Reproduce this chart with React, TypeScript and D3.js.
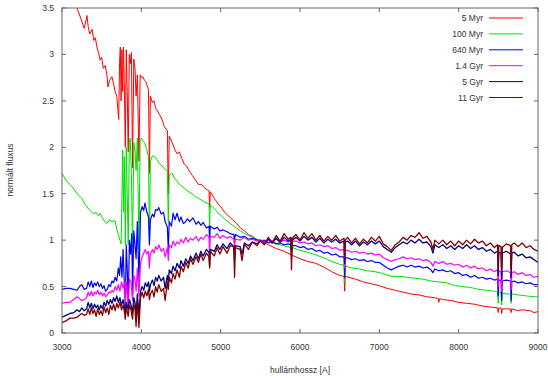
import { useEffect, useRef } from "react";
import * as d3 from "d3";

const WIDTH = 548
const HEIGHT = 378
const MARGIN = { top: 8, right: 10, bottom: 45, left: 62 }

const X_TICKS = [3000, 4000, 5000, 6000, 7000, 8000, 9000]
const Y_TICKS = [0, 0.5, 1, 1.5, 2, 2.5, 3, 3.5]
const AGES = ["5 Myr", "100 Myr", "640 Myr", "1.4 Gyr", "5 Gyr", "11 Gyr"]
const COLORS = ["#ff0000", "#00e000", "#0000ff", "#ff00ff", "#000080", "#800000"]
const WIDTHS = [1, 1, 1.2, 1.2, 1.3, 1.3]

/* [wavelength, normalised flux] */
const MYR5 = [
    [3000, 3.9], [3100, 3.68], [3190, 3.5], [3240, 3.38], [3280, 3.28], [3300, 3.36], [3315, 3.42], [3330, 3.3], [3350, 3.22],
    [3380, 3.27], [3400, 3.15], [3420, 3.18], [3440, 3.08], [3460, 3.02], [3480, 2.94], [3500, 2.97], [3520, 2.85], [3545, 2.88],
    [3565, 2.78], [3580, 2.65], [3600, 2.72], [3630, 2.76], [3650, 2.68], [3670, 2.6], [3690, 2.55], [3705, 2.4], [3715, 2.3],
    [3725, 2.9], [3735, 3.08], [3745, 2.5], [3755, 3.05], [3765, 2.6], [3775, 3.08], [3785, 2.7], [3798, 2.0], [3810, 3.05],
    [3822, 2.6], [3835, 1.95], [3848, 3.0], [3860, 2.9], [3875, 3.02], [3889, 1.78], [3905, 2.95], [3920, 2.85], [3934, 2.55],
    [3950, 2.78], [3970, 1.85], [3985, 2.78], [4000, 2.75], [4020, 2.76], [4040, 2.72], [4060, 2.7], [4090, 2.62], [4102, 1.72],
    [4114, 2.55], [4140, 2.48], [4160, 2.5], [4180, 2.42], [4200, 2.4], [4230, 2.35], [4260, 2.3], [4290, 2.22], [4328, 2.18],
    [4340, 1.5], [4352, 2.12], [4390, 2.05], [4420, 1.98], [4450, 1.93], [4480, 1.95], [4510, 1.88], [4540, 1.82], [4570, 1.8],
    [4600, 1.75], [4640, 1.7], [4680, 1.65], [4720, 1.6], [4760, 1.6], [4800, 1.56], [4853, 1.53], [4861, 1.35], [4869, 1.52],
    [4920, 1.45], [4960, 1.4], [5000, 1.36], [5050, 1.3], [5100, 1.26], [5150, 1.22], [5200, 1.18], [5250, 1.13], [5300, 1.1],
    [5350, 1.06], [5400, 1.04], [5450, 1.01], [5500, 0.99], [5600, 0.95], [5700, 0.91], [5800, 0.88], [5893, 0.84], [6000, 0.8],
    [6100, 0.77], [6200, 0.75], [6300, 0.71], [6400, 0.66], [6500, 0.62], [6555, 0.61], [6563, 0.45], [6571, 0.61], [6700, 0.58],
    [6800, 0.55], [6900, 0.53], [7000, 0.51], [7100, 0.48], [7200, 0.46], [7300, 0.44], [7400, 0.42], [7500, 0.41], [7600, 0.39],
    [7700, 0.38], [7742, 0.37], [7750, 0.33], [7758, 0.37], [7800, 0.36], [7900, 0.35], [8000, 0.33], [8100, 0.32], [8200, 0.31],
    [8300, 0.29], [8400, 0.28], [8490, 0.27], [8498, 0.22], [8506, 0.27], [8534, 0.27], [8542, 0.21], [8550, 0.26], [8600, 0.26],
    [8654, 0.26], [8662, 0.22], [8670, 0.26], [8750, 0.24], [8800, 0.25], [8900, 0.24], [8950, 0.22], [9000, 0.23],
]

const MYR100 = [
    [3000, 1.72], [3060, 1.63], [3100, 1.6], [3150, 1.55], [3200, 1.49], [3250, 1.45], [3280, 1.4], [3315, 1.36], [3340, 1.33],
    [3378, 1.3], [3400, 1.28], [3430, 1.3], [3460, 1.26], [3480, 1.29], [3510, 1.24], [3540, 1.2], [3567, 1.18], [3600, 1.22],
    [3630, 1.2], [3668, 1.21], [3690, 1.12], [3710, 1.06], [3731, 1.0], [3745, 0.96], [3755, 1.45], [3765, 1.97], [3775, 1.3],
    [3785, 1.9], [3798, 0.95], [3810, 2.0], [3822, 1.5], [3835, 0.95], [3848, 2.05], [3860, 2.1], [3875, 1.7], [3889, 0.92],
    [3905, 2.05], [3920, 1.97], [3934, 1.75], [3950, 2.1], [3970, 0.9], [3985, 2.08], [4000, 2.1], [4020, 2.07], [4040, 2.05],
    [4060, 2.0], [4090, 1.9], [4102, 0.95], [4114, 1.85], [4140, 1.91], [4160, 1.9], [4180, 1.89], [4200, 1.86], [4230, 1.82],
    [4260, 1.8], [4290, 1.77], [4328, 1.75], [4340, 1.2], [4352, 1.7], [4390, 1.72], [4420, 1.66], [4450, 1.64], [4480, 1.6],
    [4510, 1.58], [4540, 1.56], [4570, 1.54], [4600, 1.52], [4640, 1.5], [4680, 1.47], [4720, 1.45], [4760, 1.43], [4800, 1.41],
    [4853, 1.39], [4861, 1.15], [4869, 1.38], [4920, 1.34], [4960, 1.3], [5000, 1.27], [5050, 1.23], [5100, 1.19], [5150, 1.16],
    [5200, 1.13], [5250, 1.1], [5300, 1.07], [5350, 1.05], [5400, 1.03], [5450, 1.01], [5500, 1.0], [5600, 0.98], [5700, 0.96],
    [5800, 0.94], [5885, 0.92], [5893, 0.86], [5901, 0.92], [6000, 0.89], [6100, 0.87], [6200, 0.84], [6300, 0.81], [6400, 0.77],
    [6500, 0.74], [6555, 0.73], [6563, 0.55], [6571, 0.72], [6650, 0.7], [6750, 0.69], [6850, 0.67], [6950, 0.66], [7050, 0.64],
    [7150, 0.61], [7250, 0.61], [7350, 0.6], [7450, 0.59], [7550, 0.58], [7650, 0.56], [7750, 0.55], [7850, 0.54], [7950, 0.51],
    [8050, 0.5], [8150, 0.49], [8250, 0.47], [8350, 0.46], [8450, 0.45], [8490, 0.44], [8498, 0.32], [8506, 0.44], [8534, 0.44],
    [8542, 0.3], [8550, 0.43], [8600, 0.42], [8654, 0.42], [8662, 0.32], [8670, 0.42], [8750, 0.41], [8850, 0.4], [8950, 0.39],
    [9000, 0.39],
]

const MYR640 = [
    [3000, 0.47], [3050, 0.48], [3100, 0.48], [3150, 0.47], [3190, 0.46], [3220, 0.5], [3250, 0.52], [3280, 0.47], [3310, 0.48],
    [3330, 0.55], [3350, 0.5], [3370, 0.56], [3390, 0.49], [3410, 0.54], [3430, 0.51], [3450, 0.55], [3470, 0.5], [3490, 0.53],
    [3510, 0.48], [3530, 0.51], [3550, 0.45], [3570, 0.47], [3590, 0.52], [3610, 0.5], [3630, 0.56], [3650, 0.54], [3670, 0.6],
    [3690, 0.56], [3710, 0.7], [3725, 0.62], [3740, 0.82], [3755, 0.6], [3770, 0.9], [3785, 0.55], [3798, 0.3], [3810, 0.95],
    [3822, 0.7], [3835, 0.3], [3850, 1.0], [3865, 0.85], [3880, 1.07], [3889, 0.4], [3905, 1.1], [3920, 0.95], [3934, 0.8],
    [3950, 1.2], [3970, 0.55], [3990, 1.3], [4010, 1.36], [4030, 1.32], [4045, 1.4], [4070, 1.3], [4090, 1.25], [4102, 0.95],
    [4114, 1.22], [4140, 1.28], [4160, 1.25], [4180, 1.33], [4200, 1.32], [4220, 1.35], [4250, 1.28], [4280, 1.3], [4300, 1.2],
    [4328, 1.14], [4340, 0.9], [4352, 1.2], [4380, 1.15], [4400, 1.29], [4425, 1.22], [4450, 1.29], [4480, 1.2], [4500, 1.25],
    [4530, 1.18], [4550, 1.19], [4580, 1.23], [4610, 1.2], [4650, 1.24], [4690, 1.17], [4720, 1.2], [4750, 1.16], [4780, 1.19],
    [4820, 1.13], [4853, 1.15], [4861, 1.0], [4869, 1.15], [4920, 1.12], [4955, 1.14], [4990, 1.1], [5030, 1.11], [5080, 1.09],
    [5120, 1.07], [5165, 1.06], [5175, 1.0], [5185, 1.06], [5245, 1.03], [5300, 1.04], [5350, 1.01], [5400, 1.02], [5460, 1.0],
    [5500, 0.99], [5550, 1.0], [5600, 0.97], [5650, 0.99], [5700, 0.96], [5750, 0.97], [5800, 0.95], [5850, 0.96], [5885, 0.95],
    [5893, 0.88], [5901, 0.94], [5950, 0.94], [6000, 0.92], [6050, 0.93], [6100, 0.9], [6150, 0.91], [6200, 0.88], [6250, 0.89],
    [6300, 0.86], [6350, 0.87], [6400, 0.84], [6450, 0.85], [6500, 0.82], [6555, 0.82], [6563, 0.6], [6571, 0.81], [6600, 0.81],
    [6650, 0.79], [6700, 0.8], [6750, 0.78], [6800, 0.79], [6850, 0.77], [6900, 0.78], [6950, 0.76], [7000, 0.76], [7050, 0.73],
    [7100, 0.7], [7150, 0.68], [7200, 0.7], [7250, 0.72], [7300, 0.73], [7350, 0.71], [7400, 0.73], [7450, 0.71], [7500, 0.72],
    [7550, 0.7], [7600, 0.71], [7650, 0.68], [7675, 0.65], [7700, 0.69], [7750, 0.67], [7800, 0.68], [7850, 0.66], [7900, 0.67],
    [7950, 0.64], [8000, 0.65], [8050, 0.62], [8100, 0.63], [8150, 0.6], [8200, 0.62], [8250, 0.59], [8300, 0.6], [8350, 0.58],
    [8400, 0.59], [8450, 0.57], [8490, 0.58], [8498, 0.4], [8506, 0.57], [8534, 0.57], [8542, 0.35], [8550, 0.56], [8600, 0.57],
    [8654, 0.56], [8662, 0.35], [8670, 0.55], [8700, 0.56], [8750, 0.54], [8800, 0.55], [8850, 0.53], [8900, 0.54], [8950, 0.52],
    [9000, 0.52],
]

const GYR1_4 = [
    [3000, 0.32], [3050, 0.33], [3100, 0.33], [3150, 0.36], [3190, 0.39], [3220, 0.37], [3250, 0.35], [3280, 0.36], [3310, 0.38],
    [3330, 0.44], [3350, 0.4], [3370, 0.45], [3390, 0.4], [3410, 0.44], [3430, 0.42], [3450, 0.46], [3470, 0.41], [3490, 0.44],
    [3510, 0.4], [3530, 0.43], [3550, 0.39], [3570, 0.41], [3590, 0.44], [3610, 0.43], [3630, 0.46], [3650, 0.44], [3670, 0.5],
    [3690, 0.46], [3710, 0.52], [3730, 0.45], [3750, 0.55], [3770, 0.48], [3790, 0.56], [3798, 0.3], [3810, 0.55], [3835, 0.3],
    [3850, 0.58], [3870, 0.55], [3889, 0.35], [3905, 0.62], [3920, 0.58], [3934, 0.45], [3950, 0.7], [3970, 0.4], [3990, 0.75],
    [4010, 0.82], [4030, 0.86], [4050, 0.9], [4070, 0.85], [4090, 0.88], [4102, 0.7], [4114, 0.85], [4140, 0.9], [4160, 0.86],
    [4180, 0.93], [4200, 0.9], [4220, 0.95], [4250, 0.88], [4280, 0.91], [4300, 0.82], [4328, 0.92], [4340, 0.78], [4352, 0.95],
    [4380, 0.92], [4400, 0.99], [4425, 0.94], [4450, 0.98], [4480, 0.96], [4500, 1.01], [4530, 0.97], [4560, 1.03], [4590, 0.98],
    [4620, 1.02], [4650, 1.0], [4690, 1.04], [4720, 0.99], [4750, 1.03], [4780, 1.01], [4820, 1.06], [4853, 1.03], [4861, 0.85],
    [4869, 1.04], [4920, 1.03], [4955, 1.07], [4990, 1.02], [5030, 1.05], [5080, 1.02], [5120, 1.04], [5165, 1.01], [5175, 0.93],
    [5185, 1.01], [5245, 1.0], [5300, 1.03], [5350, 1.0], [5400, 1.01], [5460, 0.99], [5500, 1.0], [5550, 0.98], [5600, 1.01],
    [5650, 0.99], [5700, 1.01], [5750, 0.98], [5800, 1.0], [5850, 0.98], [5885, 0.99], [5893, 0.9], [5901, 0.99], [5950, 0.99],
    [6000, 0.97], [6050, 0.98], [6100, 0.96], [6150, 0.97], [6200, 0.94], [6250, 0.95], [6300, 0.93], [6350, 0.94], [6400, 0.91],
    [6450, 0.92], [6500, 0.89], [6555, 0.9], [6563, 0.7], [6571, 0.89], [6600, 0.89], [6650, 0.87], [6700, 0.88], [6750, 0.86],
    [6800, 0.87], [6850, 0.85], [6900, 0.86], [6950, 0.84], [7000, 0.85], [7050, 0.81], [7100, 0.79], [7150, 0.77], [7200, 0.79],
    [7250, 0.8], [7300, 0.82], [7350, 0.8], [7400, 0.81], [7450, 0.79], [7500, 0.8], [7550, 0.78], [7600, 0.79], [7650, 0.76],
    [7675, 0.72], [7700, 0.77], [7750, 0.75], [7800, 0.77], [7850, 0.74], [7900, 0.75], [7950, 0.73], [8000, 0.74], [8050, 0.71],
    [8100, 0.73], [8150, 0.7], [8200, 0.72], [8250, 0.69], [8300, 0.7], [8350, 0.67], [8400, 0.69], [8450, 0.66], [8490, 0.68],
    [8498, 0.5], [8506, 0.67], [8534, 0.66], [8542, 0.45], [8550, 0.66], [8600, 0.67], [8654, 0.65], [8662, 0.47], [8670, 0.65],
    [8700, 0.66], [8750, 0.63], [8800, 0.65], [8850, 0.62], [8900, 0.63], [8950, 0.6], [9000, 0.61],
]

const GYR5 = [
    [3000, 0.17], [3050, 0.19], [3100, 0.21], [3150, 0.22], [3190, 0.25], [3220, 0.23], [3250, 0.27], [3280, 0.24], [3310, 0.26],
    [3330, 0.33], [3350, 0.27], [3370, 0.32], [3390, 0.26], [3410, 0.31], [3430, 0.27], [3450, 0.3], [3470, 0.25], [3490, 0.3],
    [3510, 0.26], [3530, 0.33], [3550, 0.29], [3570, 0.35], [3590, 0.31], [3610, 0.36], [3630, 0.32], [3650, 0.38], [3670, 0.34],
    [3690, 0.4], [3710, 0.33], [3730, 0.38], [3750, 0.3], [3770, 0.36], [3790, 0.27], [3798, 0.22], [3810, 0.33], [3835, 0.25],
    [3850, 0.36], [3870, 0.3], [3889, 0.22], [3905, 0.38], [3920, 0.33], [3934, 0.2], [3950, 0.42], [3970, 0.2], [3990, 0.45],
    [4010, 0.5], [4030, 0.46], [4050, 0.54], [4070, 0.5], [4090, 0.55], [4102, 0.45], [4114, 0.52], [4140, 0.57], [4160, 0.51],
    [4180, 0.6], [4200, 0.56], [4220, 0.62], [4250, 0.56], [4280, 0.6], [4300, 0.48], [4328, 0.62], [4340, 0.55], [4352, 0.68],
    [4380, 0.64], [4400, 0.72], [4425, 0.67], [4450, 0.75], [4480, 0.7], [4500, 0.78], [4530, 0.72], [4560, 0.8], [4590, 0.75],
    [4620, 0.83], [4650, 0.78], [4690, 0.86], [4720, 0.8], [4750, 0.88], [4780, 0.83], [4820, 0.9], [4853, 0.87], [4861, 0.72],
    [4869, 0.9], [4920, 0.88], [4955, 0.95], [4990, 0.9], [5030, 0.96], [5080, 0.91], [5120, 0.97], [5165, 0.93], [5175, 0.78],
    [5185, 0.94], [5245, 0.93], [5270, 0.85], [5300, 0.97], [5350, 0.94], [5400, 0.98], [5460, 0.96], [5500, 0.99], [5550, 0.96],
    [5600, 1.01], [5650, 0.97], [5700, 1.02], [5750, 0.98], [5800, 1.03], [5850, 0.99], [5885, 1.01], [5893, 0.8], [5901, 1.0],
    [5950, 1.03], [6000, 0.99], [6050, 1.04], [6100, 1.0], [6150, 1.03], [6200, 0.98], [6250, 1.02], [6300, 0.97], [6350, 1.01],
    [6400, 0.98], [6450, 1.01], [6500, 0.97], [6555, 0.99], [6563, 0.75], [6571, 0.98], [6600, 0.99], [6650, 0.95], [6700, 0.99],
    [6750, 0.94], [6800, 0.98], [6850, 0.95], [6900, 0.99], [6950, 0.96], [7000, 0.99], [7050, 0.93], [7100, 0.9], [7150, 0.87],
    [7200, 0.92], [7250, 0.95], [7300, 0.98], [7350, 0.96], [7400, 1.0], [7450, 0.97], [7500, 1.01], [7550, 0.97], [7600, 0.98],
    [7650, 0.93], [7675, 0.86], [7700, 0.95], [7750, 0.92], [7800, 0.95], [7850, 0.91], [7900, 0.94], [7950, 0.9], [8000, 0.94],
    [8050, 0.91], [8100, 0.95], [8150, 0.91], [8200, 0.94], [8250, 0.9], [8300, 0.92], [8350, 0.88], [8400, 0.9], [8450, 0.86],
    [8490, 0.88], [8498, 0.62], [8506, 0.87], [8534, 0.86], [8542, 0.58], [8550, 0.86], [8600, 0.88], [8654, 0.85], [8662, 0.6],
    [8670, 0.86], [8700, 0.87], [8750, 0.83], [8800, 0.85], [8850, 0.81], [8900, 0.82], [8950, 0.79], [9000, 0.76],
]

const GYR11 = [
    [3000, 0.11], [3050, 0.13], [3100, 0.16], [3150, 0.16], [3190, 0.17], [3220, 0.19], [3250, 0.21], [3280, 0.19], [3310, 0.2],
    [3330, 0.26], [3350, 0.2], [3370, 0.27], [3390, 0.21], [3410, 0.25], [3430, 0.18], [3450, 0.26], [3470, 0.2], [3490, 0.24],
    [3510, 0.19], [3530, 0.28], [3550, 0.22], [3570, 0.27], [3590, 0.2], [3610, 0.3], [3630, 0.25], [3650, 0.31], [3670, 0.24],
    [3690, 0.32], [3710, 0.27], [3730, 0.33], [3750, 0.25], [3770, 0.3], [3790, 0.21], [3798, 0.15], [3810, 0.28], [3835, 0.18],
    [3850, 0.3], [3870, 0.25], [3889, 0.15], [3905, 0.32], [3920, 0.26], [3934, 0.07], [3950, 0.35], [3970, 0.06], [3990, 0.38],
    [4010, 0.44], [4030, 0.38], [4050, 0.45], [4070, 0.4], [4090, 0.47], [4102, 0.36], [4114, 0.42], [4140, 0.46], [4160, 0.39],
    [4180, 0.5], [4200, 0.44], [4220, 0.52], [4250, 0.45], [4280, 0.48], [4300, 0.35], [4328, 0.55], [4340, 0.47], [4352, 0.6],
    [4380, 0.54], [4400, 0.64], [4425, 0.58], [4450, 0.68], [4480, 0.6], [4500, 0.72], [4530, 0.66], [4560, 0.76], [4590, 0.7],
    [4620, 0.8], [4650, 0.74], [4690, 0.82], [4720, 0.76], [4750, 0.85], [4780, 0.78], [4820, 0.86], [4853, 0.82], [4861, 0.7],
    [4869, 0.88], [4920, 0.83], [4955, 0.92], [4990, 0.85], [5030, 0.93], [5080, 0.86], [5120, 0.94], [5165, 0.93], [5175, 0.6],
    [5185, 0.92], [5245, 0.9], [5270, 0.78], [5300, 0.96], [5350, 0.9], [5400, 0.98], [5460, 0.94], [5500, 1.0], [5550, 0.95],
    [5600, 1.03], [5650, 0.97], [5700, 1.05], [5750, 0.99], [5800, 1.07], [5850, 1.01], [5885, 1.03], [5893, 0.68], [5901, 1.02],
    [5950, 1.06], [6000, 1.0], [6050, 1.08], [6100, 1.02], [6150, 1.07], [6200, 1.0], [6250, 1.05], [6300, 0.99], [6350, 1.04],
    [6400, 1.0], [6450, 1.05], [6500, 0.99], [6555, 1.02], [6563, 0.8], [6571, 1.0], [6600, 1.03], [6650, 0.97], [6700, 1.02],
    [6750, 0.96], [6800, 1.01], [6850, 0.97], [6900, 1.03], [6950, 0.99], [7000, 1.04], [7050, 0.96], [7100, 0.93], [7150, 0.89],
    [7200, 0.95], [7250, 0.98], [7300, 1.03], [7350, 1.0], [7400, 1.05], [7450, 1.03], [7500, 1.08], [7550, 1.02], [7600, 1.04],
    [7650, 0.98], [7675, 0.9], [7700, 1.0], [7750, 0.96], [7800, 1.0], [7850, 0.95], [7900, 0.99], [7950, 0.94], [8000, 0.99],
    [8050, 0.95], [8100, 1.0], [8150, 0.96], [8200, 1.01], [8250, 0.97], [8300, 0.99], [8350, 0.94], [8400, 0.97], [8450, 0.92],
    [8490, 0.95], [8498, 0.7], [8506, 0.94], [8534, 0.93], [8542, 0.66], [8550, 0.92], [8600, 0.96], [8654, 0.94], [8662, 0.68],
    [8670, 0.95], [8700, 0.97], [8750, 0.93], [8800, 0.97], [8850, 0.92], [8900, 0.94], [8950, 0.9], [9000, 0.88],
]

const SERIES = [MYR5, MYR100, MYR640, GYR1_4, GYR5, GYR11]

export default function App(){
    const svgRef = useRef(null)

    useEffect(()=>{
        const svg = d3.select(svgRef.current)
        svg.selectAll('*').remove()
        const innerW = WIDTH - MARGIN.left - MARGIN.right
        const innerH = HEIGHT - MARGIN.top - MARGIN.bottom
        const xScale = d3.scaleLinear().domain([3000, 9000]).range([0, innerW])
        const yScale = d3.scaleLinear().domain([0, 3.5]).range([innerH, 0])
        const font = 'Liberation Sans, Arial, sans-serif'

        const g = svg.append('g').attr('transform', 'translate(' + MARGIN.left + ',' + MARGIN.top + ')')

        svg.append('defs').append('clipPath').attr('id', 'plotclip')
            .append('rect').attr('x', 0).attr('y', 0).attr('width', innerW).attr('height', innerH)

        /* spectra */
        const line = d3.line()
            .x((d) => xScale(d[0]))
            .y((d) => yScale(d[1]))
        const lines = g.append('g').attr('clip-path', 'url(#plotclip)')
        SERIES.forEach((s, i) => {
            lines.append('path')
                .attr('d', line(s))
                .attr('fill', 'none')
                .attr('stroke', COLORS[i])
                .attr('stroke-width', WIDTHS[i])
                .attr('stroke-linejoin', 'round')
        })

        /* frame */
        g.append('rect')
            .attr('x', 0).attr('y', 0).attr('width', innerW).attr('height', innerH)
            .attr('fill', 'none').attr('stroke', '#666').attr('stroke-width', 1)

        /* inward ticks on all four sides */
        const tickLen = 4
        X_TICKS.forEach((t) => {
            const x = xScale(t)
            g.append('line').attr('x1', x).attr('x2', x).attr('y1', innerH).attr('y2', innerH - tickLen).attr('stroke', '#666')
            g.append('line').attr('x1', x).attr('x2', x).attr('y1', 0).attr('y2', tickLen).attr('stroke', '#666')
            g.append('text')
                .attr('x', x).attr('y', innerH + 17)
                .attr('text-anchor', 'middle')
                .attr('font-family', font).attr('font-size', 8.5).attr('fill', '#333')
                .text(t)
        })
        Y_TICKS.forEach((t) => {
            const y = yScale(t)
            g.append('line').attr('x1', 0).attr('x2', tickLen).attr('y1', y).attr('y2', y).attr('stroke', '#666')
            g.append('line').attr('x1', innerW).attr('x2', innerW - tickLen).attr('y1', y).attr('y2', y).attr('stroke', '#666')
            g.append('text')
                .attr('x', -8).attr('y', y + 3)
                .attr('text-anchor', 'end')
                .attr('font-family', font).attr('font-size', 8.5).attr('fill', '#333')
                .text(t)
        })

        /* axis titles */
        svg.append('text')
            .attr('x', MARGIN.left + innerW / 2).attr('y', HEIGHT - 5)
            .attr('text-anchor', 'middle')
            .attr('font-family', font).attr('font-size', 8.5).attr('fill', '#333')
            .text('hullámhossz [A]')
        svg.append('text')
            .attr('transform', 'translate(13,' + (MARGIN.top + 162) + ') rotate(-90)')
            .attr('text-anchor', 'middle')
            .attr('font-family', font).attr('font-size', 8.5).attr('fill', '#333')
            .text('normált fluxus')

        /* legend */
        const legend = svg.append('g')
        AGES.forEach((a, i) => {
            const y = 18 + i * 15.9
            legend.append('text')
                .attr('x', 483).attr('y', y + 3)
                .attr('text-anchor', 'end')
                .attr('font-family', font).attr('font-size', 8.5).attr('fill', '#333')
                .text(a)
            legend.append('line')
                .attr('x1', 489).attr('x2', 523).attr('y1', y).attr('y2', y)
                .attr('stroke', COLORS[i]).attr('stroke-width', 1)
        })
    },[])

    return (
        <svg ref={svgRef} width={WIDTH} height={HEIGHT}
            style={{ position: 'absolute', left: 0, top: 0, background: '#fff' }}></svg>
    )
}
